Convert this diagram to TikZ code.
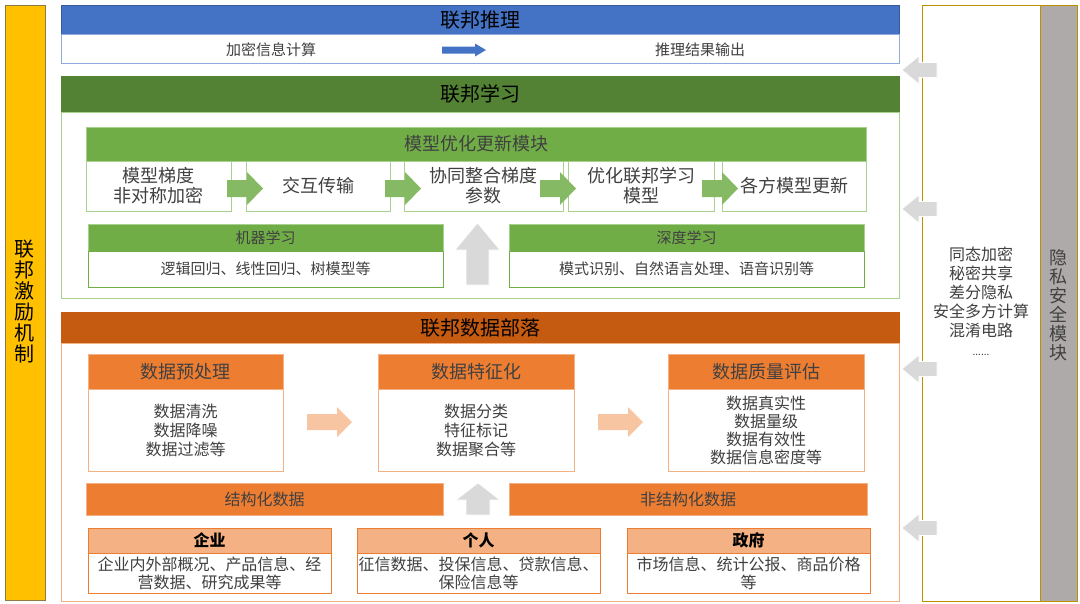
\documentclass[tikz,border=0pt]{standalone}
\usepackage{fontspec}
\setmainfont{Noto Sans CJK SC}
\definecolor{blueH}{HTML}{4472C4}
\definecolor{blueB}{HTML}{8FAADC}
\definecolor{greenD}{HTML}{548235}
\definecolor{greenL}{HTML}{70AD47}
\definecolor{greenB}{HTML}{A9D18E}
\definecolor{orangeD}{HTML}{C55A11}
\definecolor{orangeM}{HTML}{ED7D31}
\definecolor{orangeL}{HTML}{F4B183}
\definecolor{orangeA}{HTML}{F8C5A2}
\definecolor{yellowB}{HTML}{FFC000}
\definecolor{goldB}{HTML}{BF9000}
\definecolor{oliveB}{HTML}{8C7B45}
\definecolor{grayP}{HTML}{AEAAAA}
\definecolor{grayA}{HTML}{D9D9D9}
\definecolor{txt}{HTML}{404040}
\newcommand{\fsA}{\fontsize{20}{22}\selectfont}
\newcommand{\fsB}{\fontsize{18}{20}\selectfont}
\newcommand{\fsC}{\fontsize{16}{19}\selectfont}
\newcommand{\fsD}{\fontsize{15}{18}\selectfont}
\tikzset{
  bx/.style={anchor=north west, inner sep=0pt, outer sep=0pt, align=center, line width=0.8pt},
  title/.style={bx, text=black, font=\fsA},
  stepbox/.style={bx, draw=greenB, fill=white, text=txt, font=\fsB},
  garrow/.style={fill=grayA, draw=white, line width=0.6pt},
  grarrow/.style={fill=greenL!85!white, draw=none},
  orarrow/.style={fill=orangeA, draw=none},
}
\begin{document}
\begin{tikzpicture}[x=1pt,y=-1pt]
\useasboundingbox (0,0) rectangle (1080,603);
\fill[white] (0,0) rectangle (1080,603);

% left incentive bar
\node[bx, fill=yellowB, draw=oliveB, minimum width=40pt, minimum height=595pt, text=black, font=\fontsize{20}{21}\selectfont] (lbar) at (5,5) {};
\node[align=center, text=black, font=\fontsize{20}{21}\selectfont, inner sep=0pt] (lbartxt) at (25,302) {联\\邦\\激\\励\\机\\制};

% federated inference
\node[title, fill=blueH, draw=blueH!80!black, minimum width=838pt, minimum height=29pt] (infh) at (61,5) {联邦推理};
\node[bx, draw=blueB, fill=white, minimum width=838pt, minimum height=29pt] (infb) at (61,34) {};
\node[text=txt, font=\fsD, inner sep=0pt] (enc) at (271,50) {加密信息计算};
\node[text=txt, font=\fsD, inner sep=0pt] (out) at (700,50) {推理结果输出};
\fill[blueH] (442,46.5) -- (475,46.5) -- (475,43.5) -- (486,50) -- (475,56.5) -- (475,53.5) -- (442,53.5) -- cycle;

% federated learning
\node[title, fill=greenD, draw=greenD, minimum width=838pt, minimum height=36pt] (flh) at (61,76) {联邦学习};
\node[bx, draw=greenB, fill=white, minimum width=838pt, minimum height=186pt] (flb) at (61,112) {};
\node[bx, fill=greenL, draw=greenB, text=txt, font=\fsB, minimum width=780pt, minimum height=34pt] (modh) at (86,127) {模型优化更新模块};
\node[stepbox, minimum width=145pt, minimum height=50pt] (s1) at (86,161) {模型梯度\\非对称加密};
\node[stepbox, minimum width=144pt, minimum height=50pt] (s2) at (246,161) {交互传输};
\node[stepbox, minimum width=159pt, minimum height=50pt] (s3) at (404,161) {协同整合梯度\\参数};
\node[stepbox, minimum width=146pt, minimum height=50pt] (s4) at (568,161) {优化联邦学习\\模型};
\node[stepbox, minimum width=144pt, minimum height=50pt] (s5) at (722,161) {各方模型更新};
\foreach \ax in {227,385,540,702}{
  \fill[grarrow] (\ax,180) -- (\ax+20,180) -- (\ax+20,172) -- (\ax+36,188.5) -- (\ax+20,205) -- (\ax+20,197) -- (\ax,197) -- cycle;
}
\node[bx, fill=greenL, draw=greenB, text=txt, font=\fsD, minimum width=355pt, minimum height=27pt] (mlh) at (88,224) {机器学习};
\node[bx, fill=white, draw=greenL, text=txt, font=\fsD, minimum width=355pt, minimum height=36pt] (mlb) at (88,251) {逻辑回归、线性回归、树模型等};
\node[bx, fill=greenL, draw=greenB, text=txt, font=\fsD, minimum width=355pt, minimum height=27pt] (dlh) at (509,224) {深度学习};
\node[bx, fill=white, draw=greenL, text=txt, font=\fsD, minimum width=355pt, minimum height=36pt] (dlb) at (509,251) {模式识别、自然语言处理、语音识别等};
\fill[garrow] (466,285) -- (466,250) -- (455,250) -- (477.5,223) -- (500,250) -- (489,250) -- (489,285) -- cycle;

% federated data tribe
\node[title, fill=orangeD, draw=orangeD, minimum width=838pt, minimum height=31pt] (dth) at (61,312) {联邦数据部落};
\node[bx, draw=orangeL, fill=white, minimum width=838pt, minimum height=258pt] (dtb) at (61,343) {};
\node[bx, fill=orangeM, draw=orangeL, text=txt, font=\fsB, minimum width=195pt, minimum height=35pt] (pah) at (88,354) {数据预处理};
\node[bx, fill=white, draw=orangeL, text=txt, font=\fsC, minimum width=195pt, minimum height=82pt] (pab) at (88,389) {数据清洗\\数据降噪\\数据过滤等};
\node[bx, fill=orangeM, draw=orangeL, text=txt, font=\fsB, minimum width=196pt, minimum height=35pt] (pbh) at (378,354) {数据特征化};
\node[bx, fill=white, draw=orangeL, text=txt, font=\fsC, minimum width=196pt, minimum height=82pt] (pbb) at (378,389) {数据分类\\特征标记\\数据聚合等};
\node[bx, fill=orangeM, draw=orangeL, text=txt, font=\fsB, minimum width=196pt, minimum height=35pt] (pch) at (668,354) {数据质量评估};
\node[bx, fill=white, draw=orangeL, text=txt, font=\fontsize{16}{18}\selectfont, minimum width=196pt, minimum height=82pt] (pcb) at (668,389) {数据真实性\\数据量级\\数据有效性\\数据信息密度等};
\foreach \ax in {307,598}{
  \fill[orarrow] (\ax,414) -- (\ax+30,414) -- (\ax+30,407) -- (\ax+45,422) -- (\ax+30,437) -- (\ax+30,430) -- (\ax,430) -- cycle;
}
\node[bx, fill=orangeM, draw=orangeL, text=txt, font=\fsC, minimum width=357pt, minimum height=32pt] (sd) at (86,483) {结构化数据};
\node[bx, fill=orangeM, draw=orangeL, text=txt, font=\fsC, minimum width=358pt, minimum height=32pt] (ud) at (509,483) {非结构化数据};
\fill[garrow] (466,515) -- (466,500) -- (456,500) -- (478,483) -- (500,500) -- (490,500) -- (490,515) -- cycle;
\node[bx, fill=orangeL, draw=orangeM, text=black, font=\bfseries\fsC, minimum width=243pt, minimum height=25pt] (eh) at (88,528) {企业};
\node[bx, fill=white, draw=orangeM, text=txt, font=\fontsize{16}{18}\selectfont, minimum width=243pt, minimum height=40pt] (eb) at (88,553) {企业内外部概况、产品信息、经\\营数据、研究成果等};
\node[bx, fill=orangeL, draw=orangeM, text=black, font=\bfseries\fsC, minimum width=243pt, minimum height=25pt] (ph) at (357,528) {个人};
\node[bx, fill=white, draw=orangeM, text=txt, font=\fontsize{16}{18}\selectfont, minimum width=243pt, minimum height=40pt] (pb) at (357,553) {征信数据、投保信息、贷款信息、\\保险信息等};
\node[bx, fill=orangeL, draw=orangeM, text=black, font=\bfseries\fsC, minimum width=243pt, minimum height=25pt] (gh) at (627,528) {政府};
\node[bx, fill=white, draw=orangeM, text=txt, font=\fontsize{16}{18}\selectfont, minimum width=243pt, minimum height=40pt] (gb) at (627,553) {市场信息、统计公报、商品价格\\等};

% privacy security module
\node[bx, fill=white, draw=goldB, minimum width=118pt, minimum height=596pt] (sec) at (922,5) {};
\node[bx, fill=grayP, draw=goldB, minimum width=37pt, minimum height=596pt] (secbar) at (1040,5) {};
\node[align=center, text=txt, font=\fontsize{18}{19}\selectfont, inner sep=0pt] (secttl) at (1058.5,305) {隐\\私\\安\\全\\模\\块};
\node[align=center, text=txt, font=\fontsize{16}{19}\selectfont, inner sep=0pt, anchor=north] (seclist) at (981,247) {同态加密\\秘密共享\\差分隐私\\安全多方计算\\混淆电路\\{\fontsize{10}{10}\selectfont ......}};
\foreach \cy in {70,209,369,528}{
  \fill[garrow] (937,\cy-7.5) -- (919,\cy-7.5) -- (919,\cy-14) -- (902,\cy) -- (919,\cy+14) -- (919,\cy+7.5) -- (937,\cy+7.5) -- cycle;
}
\end{tikzpicture}
\end{document}
